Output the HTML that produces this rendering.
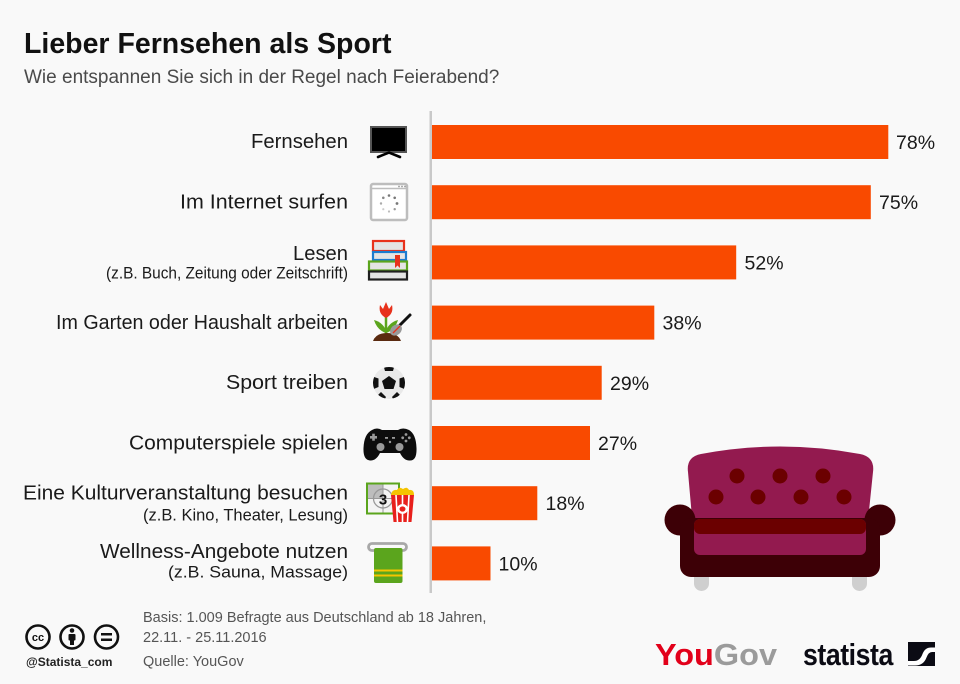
<!DOCTYPE html>
<html lang="de">
<head>
<meta charset="utf-8">
<title>Lieber Fernsehen als Sport</title>
<style>
  html,body{margin:0;padding:0;background:#f9f9f9;}
  body{width:960px;height:684px;overflow:hidden;}
  svg{display:block;}
  text{font-family:"Liberation Sans", Arial, sans-serif;}
</style>
</head>
<body>
<svg width="960" height="684" viewBox="0 0 960 684" xmlns="http://www.w3.org/2000/svg">
  <rect x="0" y="0" width="960" height="684" fill="#f9f9f9"/>

  <!-- Title -->
  <text x="24" y="53" font-size="28.5" font-weight="bold" fill="#111">Lieber Fernsehen als Sport</text>
  <text x="24" y="83" font-size="19" fill="#4a4a4a">Wie entspannen Sie sich in der Regel nach Feierabend?</text>

  <!-- Axis line -->
  <rect x="429.5" y="111" width="2.5" height="482" fill="#c9c9c9"/>

  <!-- Bars -->
  <g fill="#f94a00">
    <rect x="432" y="125" width="456.3" height="34"/>
    <rect x="432" y="185.2" width="438.8" height="34"/>
    <rect x="432" y="245.4" width="304.2" height="34"/>
    <rect x="432" y="305.6" width="222.3" height="34"/>
    <rect x="432" y="365.8" width="169.7" height="34"/>
    <rect x="432" y="426" width="158" height="34"/>
    <rect x="432" y="486.2" width="105.3" height="34"/>
    <rect x="432" y="546.4" width="58.5" height="34"/>
  </g>

  <!-- Values -->
  <g font-size="19.5" fill="#1a1a1a">
    <text x="896" y="149">78%</text>
    <text x="879" y="209.2">75%</text>
    <text x="744.5" y="269.4">52%</text>
    <text x="662.5" y="329.6">38%</text>
    <text x="610" y="389.8">29%</text>
    <text x="598" y="450">27%</text>
    <text x="545.5" y="510.2">18%</text>
    <text x="498.5" y="570.4">10%</text>
  </g>

  <!-- Labels -->
  <g font-size="20.5" fill="#1a1a1a" text-anchor="end">
    <text x="348" y="148" textLength="97" lengthAdjust="spacingAndGlyphs">Fernsehen</text>
    <text x="348" y="208.5" textLength="168" lengthAdjust="spacingAndGlyphs">Im Internet surfen</text>
    <text x="348" y="260" textLength="55" lengthAdjust="spacingAndGlyphs">Lesen</text>
    <text x="348" y="329" textLength="292" lengthAdjust="spacingAndGlyphs">Im Garten oder Haushalt arbeiten</text>
    <text x="348" y="389" textLength="122" lengthAdjust="spacingAndGlyphs">Sport treiben</text>
    <text x="348" y="449.5" textLength="219" lengthAdjust="spacingAndGlyphs">Computerspiele spielen</text>
    <text x="348" y="499.5" textLength="325" lengthAdjust="spacingAndGlyphs">Eine Kulturveranstaltung besuchen</text>
    <text x="348" y="558" textLength="248" lengthAdjust="spacingAndGlyphs">Wellness-Angebote nutzen</text>
  </g>
  <g font-size="16.5" fill="#1a1a1a" text-anchor="end">
    <text x="348" y="278.5" textLength="242" lengthAdjust="spacingAndGlyphs">(z.B. Buch, Zeitung oder Zeitschrift)</text>
    <text x="348" y="520.5" textLength="205" lengthAdjust="spacingAndGlyphs">(z.B. Kino, Theater, Lesung)</text>
    <text x="348" y="577.5" textLength="180" lengthAdjust="spacingAndGlyphs">(z.B. Sauna, Massage)</text>
  </g>

  <!-- Icon: TV -->
  <g>
    <rect x="371" y="127" width="35" height="25" fill="#000" stroke="#555" stroke-width="2"/>
    <polyline points="378,157 389,152.5 400,157" fill="none" stroke="#000" stroke-width="2.6" stroke-linecap="round"/>
  </g>

  <!-- Icon: Browser -->
  <g>
    <rect x="371" y="184" width="36" height="36" rx="2" fill="#fff" stroke="#bdbdbd" stroke-width="2.5"/>
    <line x1="371" y1="188.5" x2="407" y2="188.5" stroke="#bdbdbd" stroke-width="1.5"/>
    <circle cx="399" cy="186.5" r="0.9" fill="#999"/>
    <circle cx="402" cy="186.5" r="0.9" fill="#999"/>
    <circle cx="405" cy="186.5" r="0.9" fill="#999"/>
    <g fill="#777">
      <circle cx="389" cy="195.5" r="1.3"/>
      <circle cx="394.7" cy="197.8" r="1.3"/>
      <circle cx="397" cy="203.5" r="1.4"/>
      <circle cx="394.7" cy="209.2" r="1.2" fill="#999"/>
      <circle cx="389" cy="211.5" r="1.1" fill="#bbb"/>
      <circle cx="383.3" cy="209.2" r="1.1" fill="#ccc"/>
      <circle cx="381" cy="203.5" r="1.2" fill="#aaa"/>
      <circle cx="383.3" cy="197.8" r="1.3" fill="#888"/>
    </g>
  </g>

  <!-- Icon: Books -->
  <g stroke-width="2.2">
    <rect x="373" y="241" width="31" height="10" fill="#e4e4e4" stroke="#e8321c"/>
    <rect x="373" y="252" width="33" height="8" fill="#e4e4e4" stroke="#1d7ccf"/>
    <rect x="369" y="261.5" width="38" height="9" fill="#e4e4e4" stroke="#5ba51d"/>
    <rect x="369" y="271.5" width="38" height="8" fill="#e4e4e4" stroke="#1f1f1f"/>
    <path d="M395,255 L400,255 L400,268 L397.5,265.5 L395,268 Z" fill="#e8321c" stroke="none"/>
  </g>

  <!-- Icon: Tulip / garden -->
  <g>
    <path d="M386,317 Q386,326 386,336" stroke="#5ba51d" stroke-width="2.5" fill="none"/>
    <path d="M386,333 Q377,330 374,320 Q382,322 386,330 Z" fill="#5ba51d"/>
    <path d="M386,333 Q395,330 398,320 Q390,322 386,330 Z" fill="#5ba51d"/>
    <path d="M380,305 L383,309 L386,302 L389,309 L392,305 Q394,314 386,318 Q378,314 380,305 Z" fill="#e8321c"/>
    <path d="M373,341 Q376,333 387,333 Q398,333 401,341 Z" fill="#5a2a10"/>
    <line x1="400" y1="325" x2="410" y2="315" stroke="#111" stroke-width="3" stroke-linecap="round"/>
    <ellipse cx="396" cy="330" rx="6.5" ry="5" fill="#9a9a9a" transform="rotate(-40 396 330)"/>
    <line x1="393" y1="333" x2="400" y2="326" stroke="#e8321c" stroke-width="1.3"/>
  </g>

  <!-- Icon: Soccer ball -->
  <g>
    <defs><clipPath id="ball"><circle cx="389" cy="383" r="16"/></clipPath></defs>
    <circle cx="389" cy="383" r="16" fill="#e9e9e9"/>
    <g clip-path="url(#ball)" fill="#111">
      <polygon points="389,376 396,381 393.5,389 384.5,389 382,381"/>
      <polygon points="383,364 395,364 393,371 385,371"/>
      <polygon points="371,376 378.5,378.5 378.5,387 371,390"/>
      <polygon points="407,376 399.5,378.5 399.5,387 407,390"/>
      <polygon points="376,397 381,392 386,397 382,404"/>
      <polygon points="402,397 397,392 392,397 396,404"/>
    </g>
  </g>

  <!-- Icon: Gamepad -->
  <g>
    <path d="M372,430 Q377,427 382,430 L398,430 Q403,427 409,430 Q416,434 416.5,448 Q417,460.5 410,460.5 Q404,461 400,453 L380,453 Q376,461 370,460.5 Q363,460 363.5,448 Q364,434 372,430 Z" fill="#0d0d0d"/>
    <g fill="#9a9a9a">
      <rect x="370" y="436" width="7" height="2.6"/>
      <rect x="372.2" y="433.7" width="2.6" height="7"/>
      <circle cx="406" cy="434.5" r="1.4"/>
      <circle cx="406" cy="441" r="1.4"/>
      <circle cx="402.7" cy="437.8" r="1.4"/>
      <circle cx="409.3" cy="437.8" r="1.4"/>
      <circle cx="380.5" cy="447" r="4"/>
      <circle cx="399.5" cy="447" r="4"/>
      <rect x="385" y="437" width="3" height="1.8"/>
      <rect x="392" y="437" width="3" height="1.8"/>
      <circle cx="390" cy="442" r="1.2"/>
    </g>
  </g>

  <!-- Icon: Cinema / popcorn -->
  <g>
    <rect x="367" y="483.5" width="32" height="30" fill="#f4f4f4" stroke="#5ba51d" stroke-width="2"/>
    <rect x="368" y="484.5" width="15" height="14" fill="#bdbdbd"/>
    <circle cx="383" cy="498.5" r="9.5" fill="none" stroke="#999" stroke-width="1.3"/>
    <line x1="368" y1="498.5" x2="398" y2="498.5" stroke="#999" stroke-width="1"/>
    <line x1="383" y1="484.5" x2="383" y2="512.5" stroke="#999" stroke-width="1"/>
    <text x="383" y="504.5" font-size="15" font-weight="bold" fill="#111" text-anchor="middle">3</text>
    <path d="M391,495 Q392,489 397,490 Q399,486 403,489 Q407,486 409,490 Q414,489 414,495 Z" fill="#f5c400"/>
    <path d="M391,495 L414,495 L411.5,522 L393.5,522 Z" fill="#e8201c"/>
    <path d="M396,495 L397.5,522 M402.5,495 L402.5,522 M409,495 L407.5,522" stroke="#fff" stroke-width="1.6"/>
    <ellipse cx="402.5" cy="509" rx="5.5" ry="5" fill="#fff"/>
    <ellipse cx="402.5" cy="509" rx="3" ry="2.6" fill="#e8201c"/>
  </g>

  <!-- Icon: Towel -->
  <g>
    <rect x="368.5" y="543.5" width="38" height="7" rx="3.5" fill="none" stroke="#a8a8a8" stroke-width="2.8"/>
    <rect x="374" y="548" width="28.5" height="35" rx="2" fill="#5ba51d"/>
    <rect x="374" y="569.5" width="28.5" height="2" fill="#f5c400"/>
    <rect x="374" y="574.5" width="28.5" height="2" fill="#f5c400"/>
  </g>

  <!-- Sofa -->
  <g>
    <rect x="694" y="568" width="15" height="23" rx="7.5" fill="#cfcfcf"/>
    <rect x="852" y="568" width="15" height="23" rx="7.5" fill="#cfcfcf"/>
    <path d="M688,472 Q686,457 701,454 Q780,439 860,454 Q875,457 873,472 L866,540 L694,540 Z" fill="#931a4f"/>
    <g fill="#6b0000">
      <circle cx="737" cy="476" r="7.5"/>
      <circle cx="780" cy="476" r="7.5"/>
      <circle cx="823" cy="476" r="7.5"/>
      <circle cx="716" cy="497" r="7.5"/>
      <circle cx="758" cy="497" r="7.5"/>
      <circle cx="801" cy="497" r="7.5"/>
      <circle cx="844" cy="497" r="7.5"/>
    </g>
    <g fill="#3d0006">
      <circle cx="680" cy="520" r="15.5"/>
      <circle cx="880" cy="520" r="15.5"/>
      <rect x="680" y="518" width="200" height="59" rx="11"/>
    </g>
    <rect x="694" y="519" width="172" height="36" rx="6" fill="#931a4f"/>
    <rect x="694" y="519" width="172" height="15" rx="6" fill="#6b0000"/>
  </g>

  <!-- Footer CC icons -->
  <g fill="none" stroke="#111" stroke-width="2.6">
    <circle cx="38" cy="637" r="11.5"/>
    <circle cx="72" cy="637" r="11.5"/>
    <circle cx="106.5" cy="637" r="11.5"/>
  </g>
  <text x="38" y="641" font-size="11" font-weight="bold" fill="#111" text-anchor="middle">cc</text>
  <g fill="#111">
    <circle cx="72" cy="630.5" r="2.3"/>
    <rect x="68.5" y="634" width="7" height="6.5" rx="1"/>
    <rect x="70" y="639" width="4" height="6"/>
    <rect x="101" y="633" width="11" height="2.5"/>
    <rect x="101" y="638.5" width="11" height="2.5"/>
  </g>
  <text x="26" y="666" font-size="12" font-weight="bold" fill="#222">@Statista_com</text>

  <!-- Footer text -->
  <g font-size="14.5" fill="#555">
    <text x="143" y="622">Basis: 1.009 Befragte aus Deutschland ab 18 Jahren,</text>
    <text x="143" y="642">22.11. - 25.11.2016</text>
    <text x="143" y="666">Quelle: YouGov</text>
  </g>

  <!-- YouGov logo -->
  <text x="655" y="665" font-size="31" font-weight="bold" textLength="122" lengthAdjust="spacingAndGlyphs"><tspan fill="#e2001a">You</tspan><tspan fill="#9b9b9b">Gov</tspan></text>

  <!-- statista logo -->
  <text x="0" y="0" font-size="31" font-weight="bold" fill="#0b0b14" transform="translate(803 665) scale(0.86 1)" letter-spacing="-0.5">statista</text>
  <rect x="908" y="642" width="27" height="24" fill="#0b0b14"/>
  <path d="M908,661 L914,661 Q920,661 922.5,654 Q925,647.5 931,647.5 L935,647.5 L935,652 L932,652 Q928.5,652 926.5,657.5 Q923.5,665.5 915,665.5 L908,665.5 Z" fill="#fff"/>
</svg>
</body>
</html>
